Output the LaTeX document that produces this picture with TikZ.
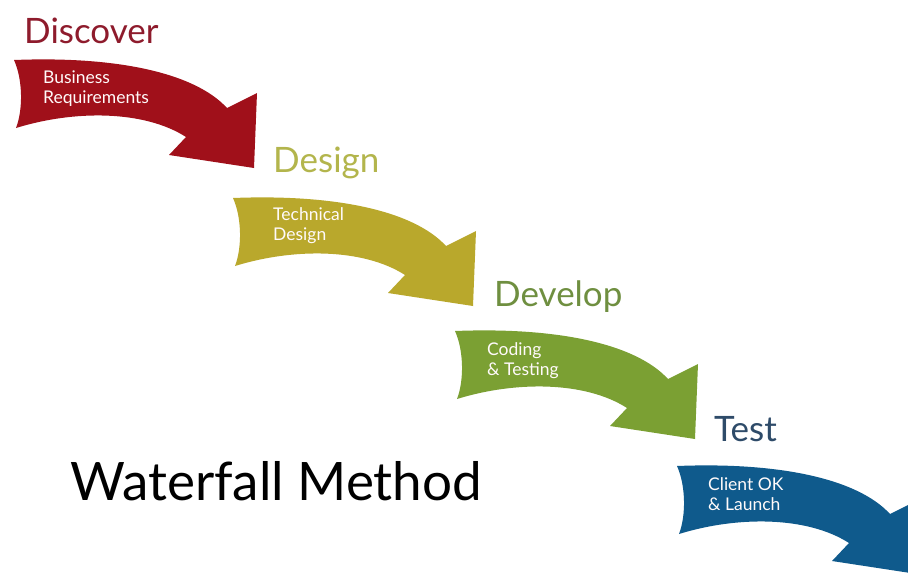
\documentclass[tikz,border=0pt]{standalone}
\usepackage{fontspec}
\setmainfont{Lato}
\definecolor{cRed}{HTML}{A0101A}
\definecolor{cRedT}{HTML}{8E1B2C}
\definecolor{cOlive}{HTML}{B9A82C}
\definecolor{cOliveT}{HTML}{B3B54C}
\definecolor{cGreen}{HTML}{7BA033}
\definecolor{cGreenT}{HTML}{6F8F40}
\definecolor{cBlue}{HTML}{0F5A8C}
\definecolor{cBlueT}{HTML}{2E4B69}
\tikzset{
  wfarrow/.pic={
    \fill[pic actions] (0,0) .. controls (100,-4) and (180,12) .. (213,48)
      -- (243,33) -- (240,108) -- (155,95) -- (172,77)
      .. controls (130,50) and (60,50) .. (2,68)
      .. controls (9,50) and (9,20) .. cycle;
  },
  phase/.style={font=\fontsize{35}{38}\selectfont, anchor=base west, inner sep=0pt},
  inner/.style={font=\fontsize{17.5}{19.5}\selectfont, anchor=base west, inner sep=0pt, align=left, text=white!92!pink},
}
\begin{document}
\begin{tikzpicture}[x=1pt,y=-1pt]
\useasboundingbox (0,0) rectangle (908,574);
\clip (0,0) rectangle (908,574);
\fill[white] (0,0) rectangle (908,574);
\pic[fill=cRed] at (14,60) {wfarrow};
\pic[fill=cOlive] at (233,198) {wfarrow};
\pic[fill=cGreen] at (455,331) {wfarrow};
\pic[fill=cBlue] at (677,466) {wfarrow};
\node[phase, text=cRedT] (t1) at (24,43) {Discover};
\node[phase, text=cOliveT] (t2) at (273,172) {Design};
\node[phase, text=cGreenT] (t3) at (494,306) {Develop};
\node[phase, text=cBlueT] (t4) at (714,441) {Test};
\node[inner] (i1) at (43,103) {Business\\Requirements};
\node[inner] (i2) at (273,240) {Technical\\Design};
\node[inner] (i3) at (487,375) {Coding\\\&~Testing};
\node[inner] (i4) at (708,510) {Client OK\\\&~Launch};
\node[font=\fontsize{53}{60}\selectfont, anchor=base west, inner sep=0pt] (title) at (70,500) {Waterfall Method};
\end{tikzpicture}
\end{document}
